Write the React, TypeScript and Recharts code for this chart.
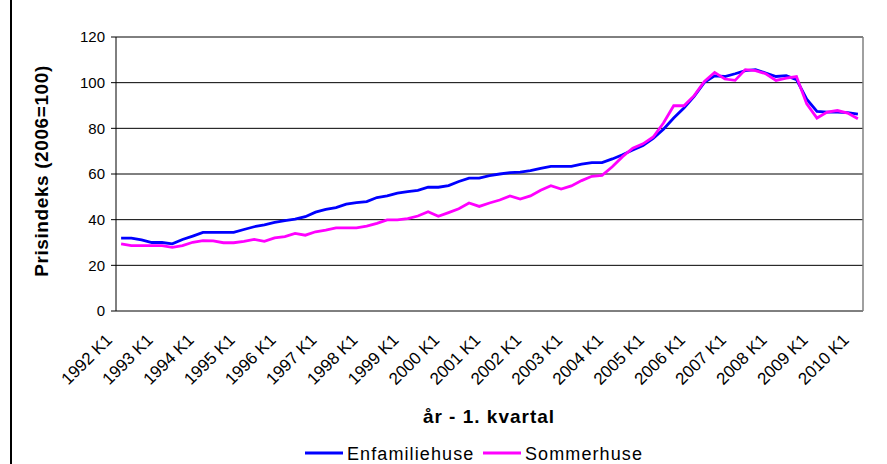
import React from 'react';
import { LineChart, Line, XAxis, YAxis, CartesianGrid, ReferenceLine } from 'recharts';

const categories = [
  '1992 K1', '1992 K2', '1992 K3', '1992 K4',
  '1993 K1', '1993 K2', '1993 K3', '1993 K4',
  '1994 K1', '1994 K2', '1994 K3', '1994 K4',
  '1995 K1', '1995 K2', '1995 K3', '1995 K4',
  '1996 K1', '1996 K2', '1996 K3', '1996 K4',
  '1997 K1', '1997 K2', '1997 K3', '1997 K4',
  '1998 K1', '1998 K2', '1998 K3', '1998 K4',
  '1999 K1', '1999 K2', '1999 K3', '1999 K4',
  '2000 K1', '2000 K2', '2000 K3', '2000 K4',
  '2001 K1', '2001 K2', '2001 K3', '2001 K4',
  '2002 K1', '2002 K2', '2002 K3', '2002 K4',
  '2003 K1', '2003 K2', '2003 K3', '2003 K4',
  '2004 K1', '2004 K2', '2004 K3', '2004 K4',
  '2005 K1', '2005 K2', '2005 K3', '2005 K4',
  '2006 K1', '2006 K2', '2006 K3', '2006 K4',
  '2007 K1', '2007 K2', '2007 K3', '2007 K4',
  '2008 K1', '2008 K2', '2008 K3', '2008 K4',
  '2009 K1', '2009 K2', '2009 K3', '2009 K4',
  '2010 K1',
];

const tickLabels = [
  '1992 K1', '1993 K1', '1994 K1', '1995 K1', '1996 K1', '1997 K1', '1998 K1',
  '1999 K1', '2000 K1', '2001 K1', '2002 K1', '2003 K1', '2004 K1', '2005 K1',
  '2006 K1', '2007 K1', '2008 K1', '2009 K1', '2010 K1',
];

const enfamiliehuse = [
  31.9, 31.9, 31.1, 30.0, 30.0, 29.4, 31.3, 32.8, 34.4, 34.4,
  34.4, 34.4, 35.7, 36.9, 37.7, 38.8, 39.6, 40.2, 41.3, 43.3,
  44.5, 45.3, 46.8, 47.5, 47.9, 49.7, 50.4, 51.6, 52.3, 52.8,
  54.2, 54.2, 54.9, 56.7, 58.2, 58.2, 59.3, 60.0, 60.6, 60.8,
  61.5, 62.5, 63.3, 63.3, 63.3, 64.3, 65.0, 65.0, 66.6, 68.4,
  70.5, 72.5, 75.6, 79.6, 84.5, 88.9, 94.0, 100.1, 103.0, 102.7,
  103.9, 105.3, 105.7, 104.2, 102.7, 103.1, 101.3, 92.8, 87.4, 87.1,
  87.1, 86.9, 86.2,
];

const sommerhuse = [
  29.4, 28.6, 28.6, 28.6, 28.6, 27.9, 28.6, 30.1, 30.8, 30.7,
  29.9, 29.9, 30.5, 31.4, 30.5, 32.0, 32.6, 34.0, 33.2, 34.7,
  35.4, 36.4, 36.4, 36.4, 37.2, 38.4, 39.9, 39.9, 40.5, 41.6,
  43.5, 41.5, 43.1, 44.8, 47.3, 45.8, 47.3, 48.6, 50.4, 49.0,
  50.4, 52.9, 54.9, 53.4, 54.8, 57.1, 59.0, 59.4, 63.2, 67.6,
  71.3, 73.2, 76.2, 82.3, 89.9, 89.9, 94.3, 100.5, 104.5, 101.6,
  101.0, 105.7, 105.3, 103.9, 101.0, 102.0, 102.7, 90.7, 84.5, 87.1,
  87.8, 86.7, 84.2,
];

const yTicks = [0, 20, 40, 60, 80, 100, 120];
const seriesKeys = ['enfamiliehuse', 'sommerhuse'];
const seriesNames = ['Enfamiliehuse', 'Sommerhuse'];
const seriesColors = ['#0000FF', '#FF00FF'];
const yTitle = 'Prisindeks (2006=100)';
const xTitle = 'år - 1. kvartal';

const FONT = "Arial, 'Liberation Sans', Helvetica, sans-serif";

const data = categories.map((c, i) => ({
  cat: c,
  pos: i + 0.5,
  enfamiliehuse: enfamiliehuse[i],
  sommerhuse: sommerhuse[i],
}));

const boundaryTicks = categories.map((_, i) => i).concat([categories.length]);
const labelTicks = tickLabels.map((l) => categories.indexOf(l) + 0.5);

const XTick = (props: any) => {
  const { x, payload } = props;
  const label = categories[Math.floor(payload.value)];
  const ax = x - 8;
  const ay = 341;
  return (
    <text
      x={ax}
      y={ay}
      transform={`rotate(-45 ${ax} ${ay})`}
      textAnchor="end"
      fontSize={17}
      fontFamily={FONT}
      fill="#000"
    >
      {label}
    </text>
  );
};

const YTitle = () => (
  <text
    x={48}
    y={171}
    transform="rotate(-90 48 171)"
    textAnchor="middle"
    fontSize={19}
    fontWeight="bold"
    fontFamily={FONT}
    letterSpacing={0.6}
    fill="#000"
  >
    {yTitle}
  </text>
);

const XTitle = () => (
  <text
    x={489}
    y={423}
    textAnchor="middle"
    fontSize={19}
    fontWeight="bold"
    fontFamily={FONT}
    letterSpacing={1}
    fill="#000"
  >
    {xTitle}
  </text>
);

const legendLayout = [
  { lineX: 305, textX: 347 },
  { lineX: 483, textX: 525 },
];

export default function App() {
  return (
    <div style={{ position: 'absolute', left: 0, top: 0, width: 887, height: 464, background: '#fff' }}>
      <div style={{ position: 'absolute', left: 10, top: 0, width: 2, height: 464, background: '#000' }} />
      <LineChart
        width={887}
        height={464}
        data={data}
        margin={{ top: 37, right: 24, bottom: 53, left: 56 }}
      >
        <CartesianGrid xAxisId="b" vertical={false} stroke="#000" strokeWidth={1} />
        <XAxis
          xAxisId="b"
          type="number"
          dataKey="pos"
          domain={[0, 73]}
          ticks={boundaryTicks}
          interval={0}
          tick={false}
          tickLine={{ stroke: '#000' }}
          tickSize={5}
          axisLine={{ stroke: '#000' }}
          height={0}
        />
        <XAxis
          xAxisId="l"
          type="number"
          dataKey="pos"
          domain={[0, 73]}
          ticks={labelTicks}
          interval={0}
          tick={<XTick />}
          tickLine={false}
          axisLine={false}
          height={100}
          label={<XTitle />}
        />
        <YAxis
          type="number"
          domain={[0, 120]}
          ticks={yTicks}
          interval={0}
          width={60}
          tickSize={5}
          tickMargin={6}
          tick={{ fontSize: 15, fill: '#000', fontFamily: FONT }}
          tickLine={{ stroke: '#000' }}
          axisLine={{ stroke: '#000' }}
          label={<YTitle />}
        />
        <ReferenceLine xAxisId="b" x={73} stroke="#808080" strokeWidth={1.5} />
        {seriesKeys.map((k, i) => (
          <Line
            key={k}
            xAxisId="b"
            type="linear"
            dataKey={k}
            name={seriesNames[i]}
            stroke={seriesColors[i]}
            strokeWidth={2.8}
            dot={false}
            activeDot={false}
            isAnimationActive={false}
          />
        ))}
      </LineChart>
      <svg width={887} height={464} style={{ position: 'absolute', left: 0, top: 0, pointerEvents: 'none' }}>
        {seriesNames.map((n, i) => (
          <g key={n}>
            <line
              x1={legendLayout[i].lineX}
              x2={legendLayout[i].lineX + 38}
              y1={453}
              y2={453}
              stroke={seriesColors[i]}
              strokeWidth={2.8}
            />
            <text
              x={legendLayout[i].textX}
              y={460}
              fontSize={18}
              fontFamily={FONT}
              letterSpacing={1.1}
              fill="#000"
            >
              {n}
            </text>
          </g>
        ))}
      </svg>
    </div>
  );
}
